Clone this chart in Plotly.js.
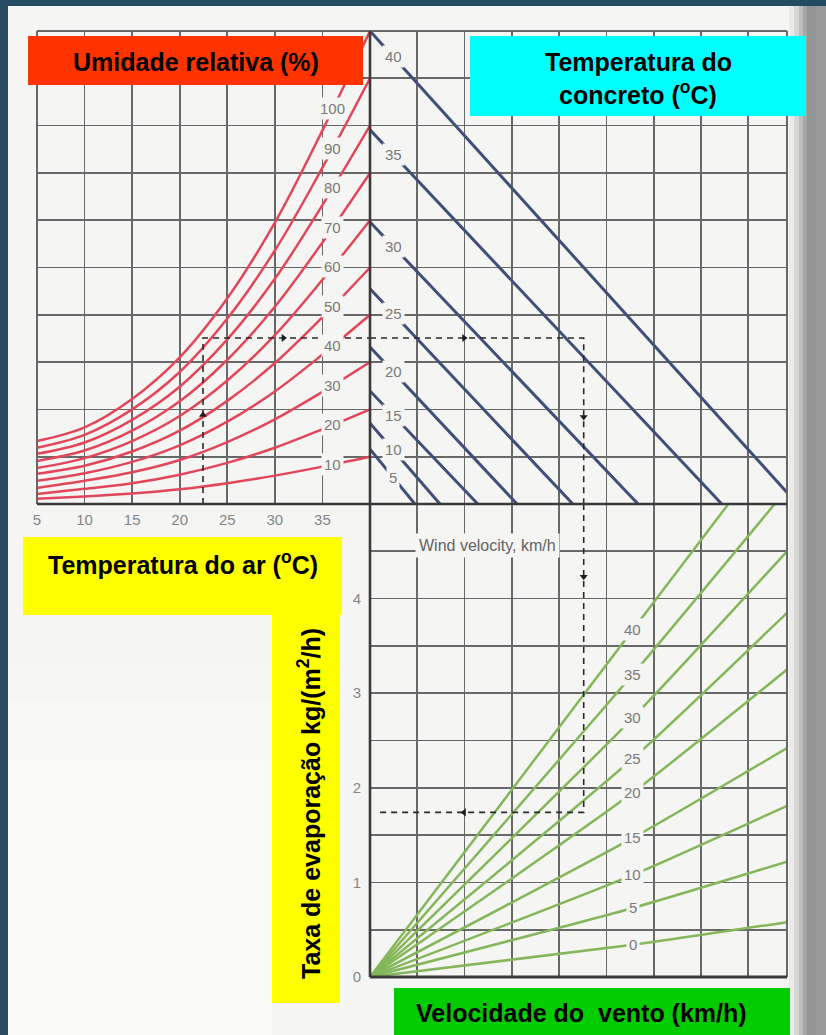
<!DOCTYPE html>
<html>
<head>
<meta charset="utf-8">
<script src="https://cdn.plot.ly/plotly-3.0.1.min.js"></script>
<style>
  html, body { margin: 0; padding: 0; background: #f5f5f3; }
  #chart { width: 826px; height: 1035px; }
</style>
</head>
<body>
<div id="chart"></div>
<script>
// ---- Upper-left panel: relative humidity curves over air temperature ----
const airTemp = [5, 10, 15, 20, 25, 30, 35, 40];
const airTempGrid = [5, 10, 15, 20, 25, 30, 35, 40];
const airTempLabels = ['5', '10', '15', '20', '25', '30', '35', ''];
const humidityLevels = [10, 20, 30, 40, 50, 60, 70, 80, 90, 100];
// vapour pressure of the air, in grid squares, at each air temperature
const rh10  = [0.11, 0.16, 0.22, 0.31, 0.44, 0.60, 0.79, 1.0];
const rh20  = [0.21, 0.32, 0.44, 0.62, 0.87, 1.19, 1.58, 2.0];
const rh30  = [0.34, 0.49, 0.67, 0.93, 1.31, 1.79, 2.37, 3.0];
const rh40  = [0.49, 0.65, 0.89, 1.24, 1.74, 2.38, 3.16, 4.0];
const rh50  = [0.64, 0.81, 1.11, 1.55, 2.18, 2.98, 3.95, 5.0];
const rh60  = [0.76, 0.97, 1.33, 1.86, 2.61, 3.57, 4.74, 6.0];
const rh70  = [0.91, 1.13, 1.55, 2.17, 3.05, 4.17, 5.53, 7.0];
const rh80  = [1.06, 1.30, 1.78, 2.48, 3.48, 4.76, 6.32, 8.0];
const rh90  = [1.19, 1.46, 2.00, 2.79, 3.92, 5.36, 7.11, 9.0];
const rh100 = [1.33, 1.62, 2.22, 3.10, 4.35, 5.95, 7.90, 10.0];
const humidityCurves = [rh10, rh20, rh30, rh40, rh50, rh60, rh70, rh80, rh90, rh100];

// ---- Upper-right panel: concrete temperature lines ----
const concreteTemps = [5, 10, 15, 20, 25, 30, 35, 40];
const concreteStartY = [1.16, 1.71, 2.39, 3.32, 4.55, 5.96, 7.91, 10.0]; // on the vertical axis
const concreteEndX   = [0.95, 1.48, 2.28, 3.11, 4.29, 5.67, 7.44, 9.04]; // on the horizontal axis

// ---- Lower panel: evaporation rate vs. wind velocity ----
const windSpeeds = [0, 5, 10, 15, 20, 25, 30, 35, 40];
const windMidX = 5.56;
const evapAtMid = [0.34, 0.73, 1.08, 1.47, 1.95, 2.31, 2.74, 3.20, 3.67];
const windEndX  = [8.82, 8.82, 8.82, 8.82, 8.82, 8.82, 8.82, 8.56, 7.58];
const evapAtEnd = [0.58, 1.22, 1.81, 2.42, 3.25, 3.85, 4.50, 5.00, 5.00];
const evapGrid = [0, 0.5, 1, 1.5, 2, 2.5, 3, 3.5, 4, 4.5, 5];
const evapLabels = ['0', '', '1', '', '2', '', '3', '', '4', '', ''];

// ---- Worked example path ----
const exampleAirTemp = 22.45;
const exampleVapour = 3.51;
const exampleDiff = 4.52;
const exampleEvap = 1.74;

// ---------------------------------------------------------------------
const W = 826, H = 1035;
const fx = px => px / W;
const fy = py => 1 - py / H;
const LEFT = 37, MIDX = 370, RIGHT = 787, TOP = 31, MIDY = 504, BOTTOM = 977;

const PAPER = '#f5f5f3';
const GRID = '#686868';
const RED = '#e2465a';
const BLUE = '#3f4f78';
const GREEN = '#84b65a';
const LABEL_FONT = { family: 'Liberation Sans, Arial, sans-serif', size: 15, color: '#7a7a7a' };
const BOX_FONT = { family: 'Liberation Sans, Arial, sans-serif', size: 25, color: '#000000' };

const traces = [];
const annotations = [];

// axis caption, mostly covered by the yellow box
traces.push({
  x: [20.35], y: [-0.8], xaxis: 'x', yaxis: 'y', mode: 'text',
  text: ['Air temperature, °C'], textfont: { family: 'Liberation Sans, Arial', size: 14, color: '#8a8a8a' },
  cliponaxis: false, showlegend: false, hoverinfo: 'skip'
});

humidityCurves.forEach((curve, i) => {
  traces.push({
    x: airTemp, y: curve, xaxis: 'x', yaxis: 'y', mode: 'lines',
    line: { color: RED, width: 2.5, shape: 'spline', smoothing: 1 },
    showlegend: false, hoverinfo: 'skip'
  });
  const t = 36.1, k = (t - 35) / 5;
  const yl = curve[6] + (curve[7] - curve[6]) * k;
  annotations.push({
    xref: 'x', yref: 'y', x: t, y: yl, text: String(humidityLevels[i]),
    xanchor: 'center', yanchor: 'middle',
    showarrow: false, font: LABEL_FONT, bgcolor: PAPER, borderpad: 2
  });
});

concreteTemps.forEach((tc, i) => {
  traces.push({
    x: [0, concreteEndX[i]], y: [concreteStartY[i], 0], xaxis: 'x2', yaxis: 'y2', mode: 'lines',
    line: { color: BLUE, width: 3 }, showlegend: false, hoverinfo: 'skip'
  });
  const lx = 0.49;
  annotations.push({
    xref: 'x2', yref: 'y2', x: lx, y: concreteStartY[i] * (1 - lx / concreteEndX[i]),
    xanchor: 'center', yanchor: 'middle',
    text: String(tc), showarrow: false, font: LABEL_FONT, bgcolor: PAPER, borderpad: 2
  });
});

windSpeeds.forEach((v, i) => {
  traces.push({
    x: [0, windMidX, windEndX[i]], y: [0, evapAtMid[i], evapAtEnd[i]], xaxis: 'x3', yaxis: 'y3',
    mode: 'lines', line: { color: GREEN, width: 2.5, shape: 'spline', smoothing: 0.6 },
    showlegend: false, hoverinfo: 'skip'
  });
  annotations.push({
    xref: 'x3', yref: 'y3', x: windMidX, y: evapAtMid[i], text: String(v),
    xanchor: 'center', yanchor: 'middle',
    showarrow: false, font: LABEL_FONT, bgcolor: PAPER, borderpad: 2
  });
});

// dashed example path
const dash = { color: '#2a2a2a', width: 1.6, dash: '6px,5px' };
traces.push({ x: [exampleAirTemp, exampleAirTemp, 40], y: [0, exampleVapour, exampleVapour],
  xaxis: 'x', yaxis: 'y', mode: 'lines', line: dash, showlegend: false, hoverinfo: 'skip' });
traces.push({ x: [0, exampleDiff, exampleDiff], y: [exampleVapour, exampleVapour, 0],
  xaxis: 'x2', yaxis: 'y2', mode: 'lines', line: dash, showlegend: false, hoverinfo: 'skip' });
traces.push({ x: [exampleDiff, exampleDiff, 0.17], y: [5, exampleEvap, exampleEvap],
  xaxis: 'x3', yaxis: 'y3', mode: 'lines', line: dash, showlegend: false, hoverinfo: 'skip' });

const arrow = (x, y, xa, ya, sym) => traces.push({
  x: [x], y: [y], xaxis: xa, yaxis: ya, mode: 'markers',
  marker: { symbol: sym, size: 7, color: '#1e1e1e' }, showlegend: false, hoverinfo: 'skip', cliponaxis: false
});
arrow(exampleAirTemp, 1.88, 'x', 'y', 'triangle-up');
arrow(30.9, exampleVapour, 'x', 'y', 'triangle-right');
arrow(1.99, exampleVapour, 'x2', 'y2', 'triangle-right');
arrow(exampleDiff, 1.84, 'x2', 'y2', 'triangle-down');
arrow(exampleDiff, 4.23, 'x3', 'y3', 'triangle-down');
arrow(1.99, exampleEvap, 'x3', 'y3', 'triangle-left');

// wind velocity caption inside lower panel
annotations.push({
  xref: 'paper', yref: 'paper', x: fx(488), y: fy(545), text: 'Wind velocity, km/h',
  xanchor: 'center', yanchor: 'middle',
  showarrow: false, font: { family: 'Liberation Sans, Arial, sans-serif', size: 16, color: '#636363' },
  bgcolor: PAPER, borderpad: 3
});

// coloured caption boxes
const boxText = (cx, cy, text, angle) => annotations.push({
  xref: 'paper', yref: 'paper', x: fx(cx), y: fy(cy), xanchor: 'center', yanchor: 'middle',
  text: '<b>' + text + '</b>', showarrow: false, font: BOX_FONT, textangle: angle || 0
});
boxText(196, 62, 'Umidade relativa (%)');
boxText(638, 62, 'Temperatura do');
boxText(638, 93, 'concreto (<sup>o</sup>C)');
boxText(183, 563, 'Temperatura do ar (<sup>o</sup>C)');
boxText(309, 804, 'Taxa de evaporação kg/(m<sup>2</sup>/h)', -90);
boxText(581, 1013, 'Velocidade do\u00a0 vento (km/h)');

const rect = (x0, y0, x1, y1, color, layer) => ({
  type: 'rect', xref: 'paper', yref: 'paper', x0: fx(x0), x1: fx(x1), y0: fy(y1), y1: fy(y0),
  fillcolor: color, line: { width: 0 }, layer: layer || 'above'
});
const seg = (x0, y0, x1, y1, color, width) => ({
  type: 'line', xref: 'paper', yref: 'paper', x0: fx(x0), x1: fx(x1), y0: fy(y0), y1: fy(y1),
  line: { color: color, width: width }, layer: 'above'
});

const shapes = [
  // page edge, softly lighter blank lower-left, binding shadow
  rect(0, 0, 8, H, '#244b61', 'below'),
  rect(0, 0, W, 6, '#244b61', 'below'),
  rect(8, 660, 272, 700, '#f6f6f5', 'below'),
  rect(8, 700, 272, 760, '#f8f8f7', 'below'),
  rect(8, 760, 272, H, '#f9f9f8', 'below'),
  rect(789, 6, 794, H, '#ebebea', 'below'),
  rect(794, 6, 799, H, '#d6d6d5', 'below'),
  rect(799, 6, 803, H, '#bdbdbc', 'below'),
  rect(803, 6, 807, H, '#a6a6a5', 'below'),
  rect(807, 6, 816, H, '#939393', 'below'),
  rect(816, 6, W, H, '#999999', 'below'),
  // frame and axes
  seg(LEFT, TOP, RIGHT, TOP, GRID, 2),
  seg(LEFT, TOP, LEFT, MIDY, GRID, 2),
  seg(RIGHT, TOP, RIGHT, BOTTOM, GRID, 2),
  seg(LEFT, MIDY, RIGHT, MIDY, '#3a3a3a', 2.6),
  seg(MIDX, TOP, MIDX, BOTTOM, '#3a3a3a', 2.6),
  seg(MIDX, BOTTOM, RIGHT, BOTTOM, '#3a3a3a', 3),
  // caption boxes
  rect(28, 36, 363, 85, '#ff3300'),
  rect(470, 36, 806, 116, '#00ffff'),
  rect(23, 537, 342, 615, '#ffff00'),
  rect(272, 615, 340, 1003, '#ffff00'),
  rect(394, 988, 790, H, '#00cc00')
];

const hiddenAxis = (extra) => Object.assign({
  showgrid: true, gridcolor: GRID, gridwidth: 1.7, zeroline: false, showline: false,
  showticklabels: false, ticks: '', fixedrange: true
}, extra);

const layout = {
  width: W, height: H,
  margin: { l: 0, r: 0, t: 0, b: 0, pad: 0 },
  paper_bgcolor: PAPER, plot_bgcolor: 'rgba(0,0,0,0)',
  showlegend: false,
  xaxis: hiddenAxis({
    domain: [fx(LEFT), fx(MIDX)], range: [5, 40], anchor: 'y',
    tickmode: 'array', tickvals: airTempGrid, ticktext: airTempLabels,
    showticklabels: true, ticklabelstandoff: 5,
    tickfont: { family: 'Liberation Sans, Arial, sans-serif', size: 15, color: '#858585' }
  }),
  yaxis: hiddenAxis({ domain: [fy(MIDY), fy(TOP)], range: [0, 10], anchor: 'x', tick0: 0, dtick: 1 }),
  xaxis2: hiddenAxis({ domain: [fx(MIDX), fx(RIGHT)], range: [0, 8.82], anchor: 'y2', tick0: 0, dtick: 1 }),
  yaxis2: hiddenAxis({ domain: [fy(MIDY), fy(TOP)], range: [0, 10], anchor: 'x2', tick0: 0, dtick: 1 }),
  xaxis3: hiddenAxis({ domain: [fx(MIDX), fx(RIGHT)], range: [0, 8.82], anchor: 'y3', tick0: 0, dtick: 1 }),
  yaxis3: hiddenAxis({
    domain: [fy(BOTTOM), fy(MIDY)], range: [0, 5], anchor: 'x3',
    tickmode: 'array', tickvals: evapGrid, ticktext: evapLabels,
    showticklabels: true, ticklabelstandoff: 8,
    tickfont: { family: 'Liberation Sans, Arial, sans-serif', size: 15, color: '#858585' }
  }),
  shapes: shapes,
  annotations: annotations
};

Plotly.newPlot('chart', traces, layout, { staticPlot: true, displayModeBar: false });
</script>
</body>
</html>
